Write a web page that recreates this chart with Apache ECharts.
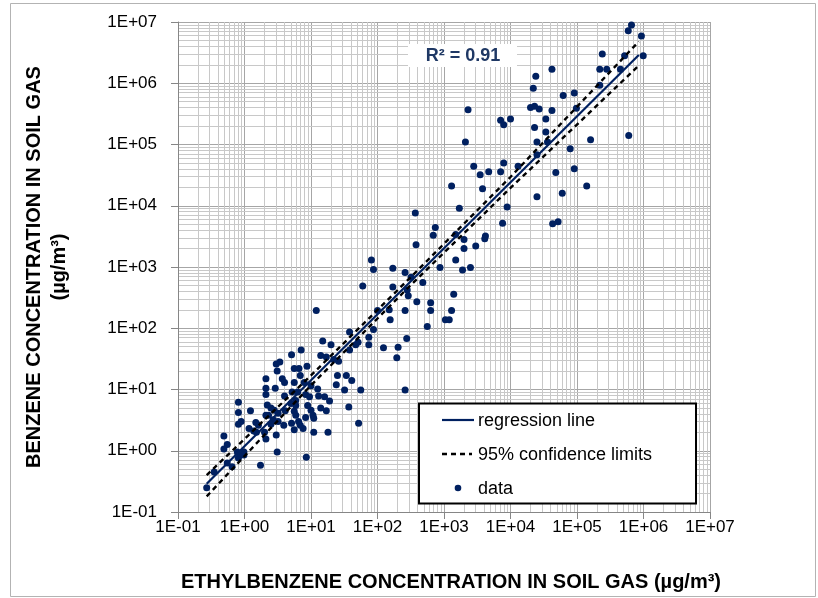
<!DOCTYPE html>
<html>
<head>
<meta charset="utf-8">
<script src="https://cdn.jsdelivr.net/npm/echarts@6/dist/echarts.min.js"></script>
<style>
html,body{margin:0;padding:0;background:#fff;}
#chart{width:818px;height:598px;}
</style>
</head>
<body>
<div id="chart"></div>
<script>
// Ethylbenzene (x) and benzene (y) soil-gas concentrations, µg/m³
const ethylbenzene = [6.6e5,5.9e5,9.3e5,9.9e5,5.2e5,2.4e5,2.2e5,2.8e5,4.5e5,4.2e4,
 2.4e4,2.2e4,2.2e5,6.2e4,9.1e4,9.8e4,2.0e4,2.3e4,2.7e4,4.2e4,
 2.3e3,3.4e4,2.3e4,7.1e3,7.9e3,1.0e4,3.4e4,1.6e5,6.0e5,2.1e3,
 2.5e4,3.6e4,7.9e4,2.5e4,7.9e3,2.8e3,7.1e3,4.7e3,3.5e3,1.3e4,
 4.8e4,9.1e4,3.8e3,1.3e3,1.4e5,6.0e4,2.5e4,1.7e3,8.9e3,7.6e3,
 4.3e4,5.2e4,
 370,740,690,380,1.5e3,2.0e3,2.0e3,3.0e3,4.2e3,4.1e3,1.5e3,870,1.9e3,2.5e3,
 81,87,170,260,320,170,480,60,280,290,390,630,1.4e3,630,1.3e3,260,150,100,155,1.05e3,1.2e3,560,87,12,38,74,51,47,74,38,123,204,275,195,
 15,20,14,17,22,26,7.1,5.1,3.4,3.0,8.7,6.6,5.6,25,34,41,24,32,56,260,
 3.1,2.1,3.7,4.0,5.6,6.9,7.9,10,12.6,13,16,19,
 2.1,2.9,2.1,4.0,5.2,6.3,8.3,9.5,5.9,5.0,5.9,8.9,10,14,17,37,
 2.2,2.5,2.8,2.3,2.1,3.2,4.1,5.6,5.9,10.7,11,8.3,
 2.7,3.2,2.5,3.9,5.1,6.5,6.9,7.6,5.6,11,18,52,
 0.81,0.81,0.81,0.89,1.23,1.48,1.62,1.17,1.38,1.51,2.0,3.0,2.1,3.1,8.5,1.74,0.49,0.49,0.55,0.78,0.87,0.98,0.81,0.98,0.55,0.65,0.35,0.27];

const benzene = [8.9e6,7.2e6,5.9e6,2.8e6,2.8e6,3.0e6,1.7e6,1.7e6,1.7e6,1.7e6,
 1.3e6,8.3e5,9.3e5,6.3e5,6.9e5,3.9e5,4.0e5,4.2e5,3.8e5,3.6e5,
 3.7e5,2.6e5,1.9e5,2.5e5,2.1e5,2.6e5,1.6e5,1.2e5,1.4e5,1.1e5,
 1.1e5,1.1e5,8.5e4,6.8e4,5.0e4,4.4e4,3.6e4,3.6e4,3.2e4,4.4e4,
 3.5e4,4.0e4,1.9e4,2.1e4,2.1e4,1.6e4,1.4e4,9.1e3,9.5e3,5.2e3,
 5.1e3,5.5e3,
 7.6e3,4.4e3,3.3e3,2.3e3,3.4e3,2.8e3,2.0e3,2.2e3,3.2e3,2.9e3,1.3e3,980,890,980,
 1.3e3,910,950,810,680,470,560,490,420,340,270,260,360,195,195,195,200,195,138,138,138,107,95,195,87,71,59,54,54,44,48,49,68,33,
 62,54,36,34,31,29,44,37,28,26,24,22,22,17,17,14,12,9.8,9.8,9.8,
 20,15,15,13,13,17,13,11.5,10.2,7.8,7.6,6.5,
 10.5,10.5,8.3,7.8,9.1,9.1,8.3,7.6,6.6,5.9,5.5,5.5,4.6,5.0,4.5,5.2,
 5.6,5.0,4.6,3.8,3.8,4.1,4.5,4.4,3.8,3.8,3.4,3.5,
 3.2,3.0,2.7,2.6,2.8,3.0,2.6,2.3,2.2,2.0,2.0,2.8,
 6.2,4.2,2.7,3.0,4.5,2.9,2.6,2.3,2.1,2.0,2.0,1.8,1.55,0.95,0.78,0.58,1.74,1.07,1.26,0.95,0.85,0.95,0.76,0.85,0.63,0.55,0.45,0.25];

// Regression line end points
const regressionX = [0.27, 8.5e5];
const regressionY = [0.29, 2.9e6];

// 95% confidence limits
const confidenceX = [0.27, 10, 300, 1e4, 8.5e5];
const upperLimitY = [0.40, 17, 645, 2.95e4, 4.8e6];
const lowerLimitY = [0.18, 11.7, 479, 1.95e4, 1.95e6];

// Tick labels (decades 1E-01 .. 1E+07)
const tickExponents = [-1,0,1,2,3,4,5,6,7];
const tickLabels = ['1E-01','1E+00','1E+01','1E+02','1E+03','1E+04','1E+05','1E+06','1E+07'];

const rSquaredText = 'R\u00B2 = 0.91';
const xTitle = 'ETHYLBENZENE CONCENTRATION IN SOIL GAS (\u00B5g/m\u00B3)';
const yTitle = 'BENZENE CONCENTRATION IN SOIL GAS\n(\u00B5g/m\u00B3)';
const legendNames = ['regression line', '95% confidence limits', 'data'];

const NAVY = '#002060';
const FONT = '"Liberation Sans", Arial, sans-serif';

function tickLabel(v){
  const e = Math.round(Math.log10(v));
  const i = tickExponents.indexOf(e);
  return i >= 0 ? tickLabels[i] : '';
}

// minor gridline positions (2..9 within each decade)
const minorX = [], minorY = [];
for (let e = -1; e < 7; e++) {
  for (let k = 2; k <= 9; k++) {
    const v = k * Math.pow(10, e);
    minorX.push({xAxis: v});
    minorY.push({yAxis: v});
  }
}

const n = Math.min(ethylbenzene.length, benzene.length);
const points = [];
for (let i = 0; i < n; i++) points.push([ethylbenzene[i], benzene[i]]);

const chart = echarts.init(document.getElementById('chart'), null, {renderer: 'canvas'});

const axisCommon = {
  type: 'log',
  logBase: 10,
  min: 0.1,
  max: 1e7,
  splitNumber: 8,
  axisLine: {show: true, lineStyle: {color: '#868686', width: 1}},
  axisTick: {show: true, inside: false, length: 7, lineStyle: {color: '#868686'}},
  splitLine: {show: true, lineStyle: {color: '#a6a6a6', width: 1}},
  minorTick: {show: false},
  minorSplitLine: {show: false}
};

chart.setOption({
  animation: false,
  backgroundColor: '#ffffff',
  grid: {left: 178, top: 22, width: 532, height: 490, containLabel: false},
  xAxis: Object.assign({}, axisCommon, {
    axisLabel: {formatter: tickLabel, fontFamily: FONT, fontSize: 17, color: '#000', margin: 7}
  }),
  yAxis: Object.assign({}, axisCommon, {
    axisLabel: {formatter: tickLabel, fontFamily: FONT, fontSize: 17, color: '#000', margin: 21}
  }),
  series: [
    {
      name: 'minor grid',
      type: 'line',
      data: [[1, 1]],
      showSymbol: false,
      symbolSize: 0,
      lineStyle: {opacity: 0},
      silent: true,
      z: 0,
      markLine: {
        z: 0,
        silent: true,
        symbol: ['none', 'none'],
        label: {show: false},
        emphasis: {disabled: true},
        lineStyle: {color: '#c8c8c8', width: 1, type: 'solid'},
        data: minorX.concat(minorY)
      }
    },
    {
      name: legendNames[2],
      type: 'scatter',
      data: points,
      symbol: 'circle',
      symbolSize: 7,
      itemStyle: {color: NAVY, opacity: 1},
      z: 6
    },
    {
      name: legendNames[0],
      type: 'line',
      data: regressionX.map((x, i) => [x, regressionY[i]]),
      showSymbol: false,
      lineStyle: {color: NAVY, width: 2.2},
      z: 7
    },
    {
      name: legendNames[1],
      type: 'line',
      data: confidenceX.map((x, i) => [x, upperLimitY[i]]),
      showSymbol: false,
      lineStyle: {color: '#000', width: 2.4, type: [5, 4]},
      z: 7
    },
    {
      name: legendNames[1],
      type: 'line',
      data: confidenceX.map((x, i) => [x, lowerLimitY[i]]),
      showSymbol: false,
      lineStyle: {color: '#000', width: 2.4, type: [5, 4]},
      z: 7
    }
  ],
  graphic: [
    // outer frame
    {type: 'rect', z: 0, silent: true,
     shape: {x: 10.5, y: 3.5, width: 805, height: 593},
     style: {fill: 'none', stroke: '#b3b3b3', lineWidth: 1}},
    // R² label
    {type: 'rect', z: 10, silent: true,
     shape: {x: 408, y: 44, width: 109, height: 23},
     style: {fill: '#ffffff'}},
    {type: 'text', z: 11, silent: true, x: 463, y: 56,
     style: {text: rSquaredText, fill: '#1F3864', font: 'bold 18px ' + FONT,
             textAlign: 'center', textVerticalAlign: 'middle'}},
    // legend box
    {type: 'rect', z: 10, silent: true,
     shape: {x: 419, y: 403.5, width: 277, height: 100},
     style: {fill: '#ffffff', stroke: '#000000', lineWidth: 2}},
    {type: 'line', z: 11, silent: true,
     shape: {x1: 442, y1: 420, x2: 474, y2: 420},
     style: {stroke: NAVY, lineWidth: 2.2}},
    {type: 'text', z: 11, silent: true, x: 478, y: 421,
     style: {text: legendNames[0], fill: '#000', font: '18px ' + FONT, textVerticalAlign: 'middle'}},
    {type: 'line', z: 11, silent: true,
     shape: {x1: 442, y1: 454, x2: 472, y2: 454},
     style: {stroke: '#000', lineWidth: 2.4, lineDash: [5, 4]}},
    {type: 'text', z: 11, silent: true, x: 478, y: 455,
     style: {text: legendNames[1], fill: '#000', font: '18px ' + FONT, textVerticalAlign: 'middle'}},
    {type: 'circle', z: 11, silent: true,
     shape: {cx: 458, cy: 488, r: 3.3},
     style: {fill: NAVY}},
    {type: 'text', z: 11, silent: true, x: 478, y: 489,
     style: {text: legendNames[2], fill: '#000', font: '18px ' + FONT, textVerticalAlign: 'middle'}},
    // axis titles
    {type: 'text', z: 11, silent: true, x: 451, y: 582,
     style: {text: xTitle, fill: '#000', font: 'bold 20px ' + FONT,
             textAlign: 'center', textVerticalAlign: 'middle'}},
    {type: 'text', z: 11, silent: true, x: 47, y: 267, rotation: Math.PI / 2,
     style: {text: yTitle, fill: '#000', font: 'bold 20px ' + FONT,
             textAlign: 'center', textVerticalAlign: 'middle', lineHeight: 25}}
  ]
});
</script>
</body>
</html>
